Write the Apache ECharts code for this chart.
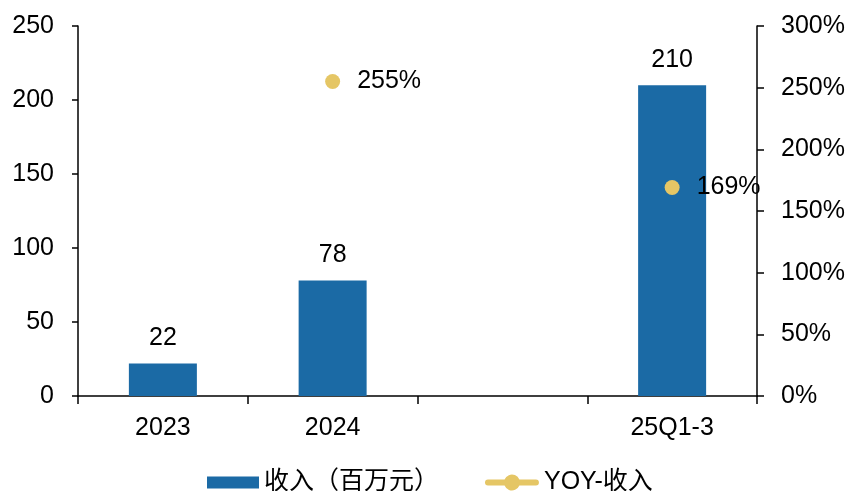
<!DOCTYPE html>
<html><head><meta charset="utf-8">
<script src="https://cdn.jsdelivr.net/npm/echarts@6/dist/echarts.min.js"></script>
<style>html,body{margin:0;padding:0;background:#fff}#c{width:850px;height:491px}</style>
</head><body><div id="c"></div>
<script>
const categories = ['2023', '2024', '', '25Q1-3'];
const revenue = [22, 78, null, 210];
const yoy = [null, 255, null, 169];
const leftTicks = [0, 50, 100, 150, 200, 250];
const rightTicks = [0, 50, 100, 150, 200, 250, 300];

const FONT = '"Liberation Sans", Arial, "Noto Sans CJK SC", sans-serif';
const FS = 25;
const LINE_ICON = 'path://M3,5 H19.58 A8,8 0 0,1 34.42,5 H51 A3,3 0 0,1 51,11 H34.42 A8,8 0 0,1 19.58,11 H3 A3,3 0 0,1 3,5 Z';
const chart = echarts.init(document.getElementById('c'), null, {renderer: 'canvas'});
chart.setOption({
  animation: false,
  textStyle: {fontFamily: FONT},
  grid: {left: 78, right: 93, top: 26, bottom: 95, containLabel: false},
  legend: [
    {
      top: 470, left: 207, padding: 0, itemWidth: 52, itemHeight: 12,
      textStyle: {fontSize: FS, color: '#000', fontFamily: FONT},
      data: [{name: '收入（百万元）', icon: 'rect'}]
    },
    {
      top: 470, left: 485, padding: 0, itemWidth: 54, itemHeight: 16,
      textStyle: {fontSize: FS, color: '#000', fontFamily: FONT},
      data: [{name: 'YOY-收入', icon: LINE_ICON}]
    }
  ],
  xAxis: {
    type: 'category', data: categories,
    axisLine: {lineStyle: {color: '#000', width: 1.5}},
    axisTick: {show: true, length: 8, alignWithLabel: false, lineStyle: {color: '#000', width: 1.5}},
    axisLabel: {fontSize: FS, color: '#000', margin: 20, interval: 0}
  },
  yAxis: [
    {
      type: 'value', min: leftTicks[0], max: leftTicks[leftTicks.length - 1], interval: 50,
      axisLine: {show: true, lineStyle: {color: '#000', width: 1.5}},
      axisTick: {show: true, length: 6, lineStyle: {color: '#000', width: 1.5}},
      splitLine: {show: false},
      axisLabel: {fontSize: FS, color: '#000', margin: 24}
    },
    {
      type: 'value', min: rightTicks[0], max: rightTicks[rightTicks.length - 1], interval: 50,
      position: 'right',
      axisLine: {show: true, lineStyle: {color: '#000', width: 1.5}},
      axisTick: {show: true, length: 7, lineStyle: {color: '#000', width: 1.5}},
      splitLine: {show: false},
      axisLabel: {fontSize: FS, color: '#000', margin: 24, formatter: '{value}%'}
    }
  ],
  series: [
    {
      name: '收入（百万元）', type: 'bar', data: revenue, barWidth: 68, yAxisIndex: 0,
      itemStyle: {color: '#1b6aa5'},
      label: {show: true, position: 'top', distance: 13, fontSize: FS, color: '#000'}
    },
    {
      name: 'YOY-收入', type: 'line', data: yoy, yAxisIndex: 1, connectNulls: false,
      symbol: 'circle', symbolSize: 15,
      itemStyle: {color: '#e5c665'},
      lineStyle: {color: '#e5c665', width: 6, cap: 'round'},
      label: {show: true, position: 'right', distance: 17, fontSize: FS, color: '#000', formatter: '{c}%'}
    }
  ]
});
</script></body></html>
